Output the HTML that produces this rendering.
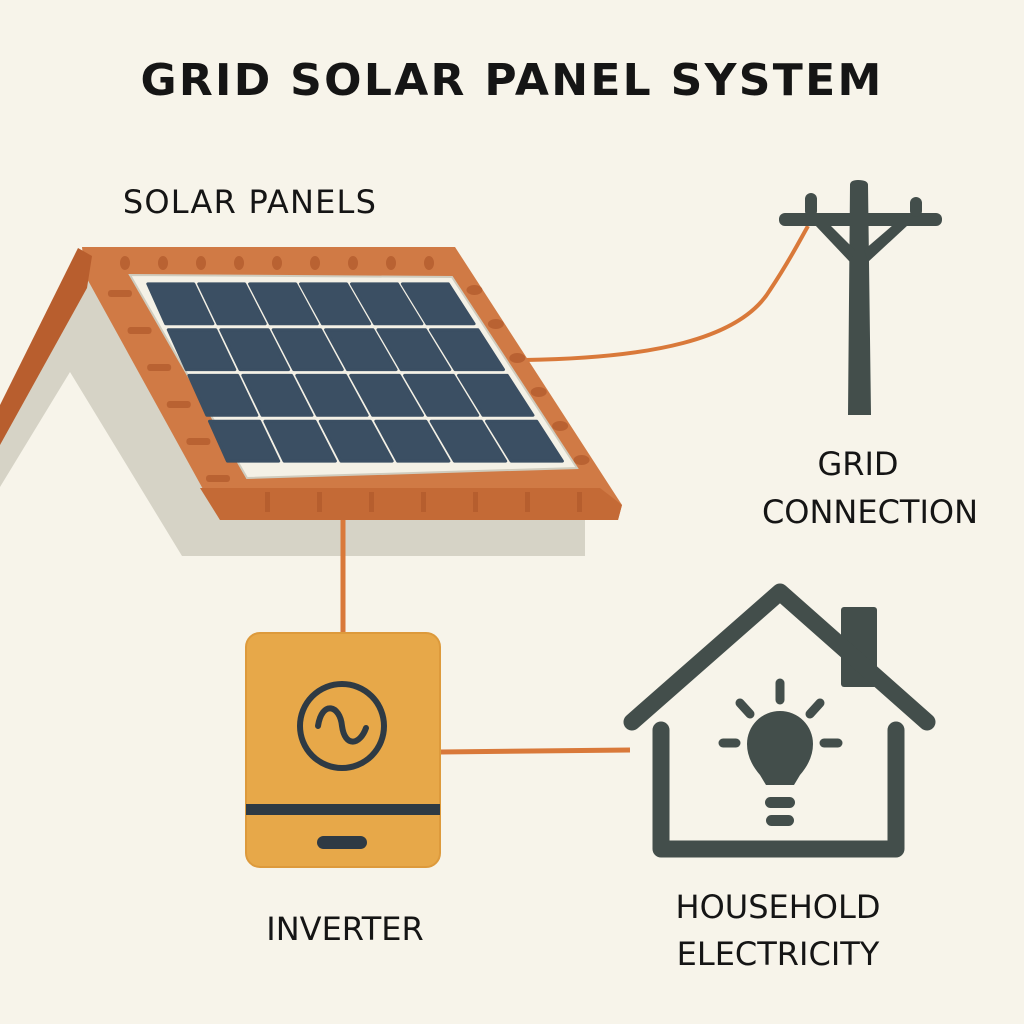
<!DOCTYPE html>
<html><head><meta charset="utf-8"><style>
html,body{margin:0;padding:0;background:#f7f4ea;}
svg{display:block}
text{font-family:"DejaVu Sans","Liberation Sans",sans-serif;fill:#151515}
</style></head><body>
<svg id="s" width="1024" height="1024" viewBox="0 0 1024 1024" xmlns="http://www.w3.org/2000/svg">
<rect width="1024" height="1024" fill="#f7f4ea"/>
<text x="512" y="95" text-anchor="middle" font-size="44" font-weight="bold" letter-spacing="2.3">GRID SOLAR PANEL SYSTEM</text>
<text x="250" y="213" text-anchor="middle" font-size="32" letter-spacing="1.2">SOLAR PANELS</text>
<text x="858" y="475" text-anchor="middle" font-size="32">GRID</text>
<text x="870" y="523" text-anchor="middle" font-size="32">CONNECTION</text>
<text x="345" y="940" text-anchor="middle" font-size="32">INVERTER</text>
<text x="778" y="918" text-anchor="middle" font-size="32">HOUSEHOLD</text>
<text x="778" y="965" text-anchor="middle" font-size="32">ELECTRICITY</text>

<polygon points="85,265 0,428 0,487 70,372 182,556 585,556 585,520 220,520" fill="#d6d3c6"/>
<path d="M343 515 V635" stroke="#d9793a" stroke-width="5" fill="none"/>
<path d="M440 752 L630 750" stroke="#d9793a" stroke-width="5" fill="none"/>
<path d="M525 360 C650 358 740 340 770 290 C790 260 800 240 808 226" stroke="#d9793a" stroke-width="4" fill="none"/>
<polygon points="82,247 455,247 622,505 618,520 220,520 85,275" fill="#d07a45"/>
<polygon points="78,248 92,256 87,288 0,445 0,405" fill="#b85e2e"/>
<polygon points="200,488 600,488 622,505 618,520 220,520" fill="#c46a36"/>
<g id="tiles" fill="#b25a2c" opacity="0.75"></g>
<polygon points="130,275 452,277 577,468 247,478" fill="#f4f1e6" stroke="#cfccbe" stroke-width="2"/>
<g id="cells" fill="#3b4f63"></g>

<g fill="#434e4b">
<path d="M850 185 Q850 180 858 180 Q868 180 868 185 L871 415 L848 415 Z"/>
<rect x="779" y="213" width="163" height="13" rx="6"/>
<rect x="805" y="193" width="12" height="24" rx="6"/>
<rect x="910" y="197" width="12" height="20" rx="6"/>
<polygon points="815,225 830,225 855,250 850,262"/>
<polygon points="893,225 908,225 868,262 864,250"/>
</g>

<rect x="246" y="633" width="194" height="234" rx="14" fill="#e7a849" stroke="#dd9a3c" stroke-width="2"/>
<rect x="246" y="804" width="194" height="11" fill="#2e3a44"/>
<rect x="317" y="836" width="50" height="13" rx="6.5" fill="#2e3a44"/>
<circle cx="342" cy="726" r="42" fill="none" stroke="#2e3a44" stroke-width="6"/>
<path d="M318 726 C322 700 340 705 342 726 C345 748 360 745 366 728" fill="none" stroke="#2e3a44" stroke-width="6" stroke-linecap="round"/>

<rect x="841" y="607" width="36" height="80" rx="3" fill="#434e4b"/>
<g fill="none" stroke="#434e4b" stroke-width="17" stroke-linejoin="round" stroke-linecap="round">
<path d="M661 730 V849 H896 V730"/>
<path d="M632 722 L780 592 L927 722"/>
</g>
<g fill="#434e4b">
<path d="M747 744 A33 33 0 1 1 813 744 Q813 760 800 775 L794 785 L766 785 L760 775 Q747 760 747 744 Z"/>
<rect x="765" y="797" width="30" height="11" rx="5.5"/>
<rect x="766" y="815" width="28" height="11" rx="5.5"/>
</g>
<g stroke="#434e4b" stroke-width="9" stroke-linecap="round">
<line x1="780" y1="683" x2="780" y2="700"/>
<line x1="740" y1="703" x2="750" y2="714"/>
<line x1="820" y1="703" x2="810" y2="714"/>
<line x1="723" y1="743" x2="736" y2="743"/>
<line x1="824" y1="743" x2="838" y2="743"/>
</g>
</svg>
<script>
var NS="http://www.w3.org/2000/svg";
function lerp(a,b,t){return [a[0]+(b[0]-a[0])*t,a[1]+(b[1]-a[1])*t];}
var TL=[144,281],TR=[449,281],BR=[567,464],BL=[226,464];
function P(u,v){return lerp(lerp(TL,TR,u),lerp(BL,BR,u),v);}
var g=document.getElementById('cells');
var cols=6,rows=4,gu=0.008,gv=0.016;
for(var r=0;r<rows;r++)for(var c=0;c<cols;c++){
 var u0=c/cols+gu,u1=(c+1)/cols-gu,v0=r/rows+gv,v1=(r+1)/rows-gv;
 var pts=[P(u0,v0),P(u1,v0),P(u1,v1),P(u0,v1)].map(function(p){return p[0].toFixed(1)+","+p[1].toFixed(1)}).join(" ");
 var e=document.createElementNS(NS,'polygon');e.setAttribute('points',pts);
 e.setAttribute('stroke','#3b4f63');e.setAttribute('stroke-width','3');e.setAttribute('stroke-linejoin','round');
 g.appendChild(e);}
var t=document.getElementById('tiles');
for(var i=0;i<7;i++){var x=265+i*52;var e=document.createElementNS(NS,'rect');
 e.setAttribute('x',x);e.setAttribute('y',492);e.setAttribute('width',5);e.setAttribute('height',20);t.appendChild(e);}
for(var i=0;i<6;i++){var y=290+i*37;var x=100+(y-275)*0.53;var e=document.createElementNS(NS,'rect');
 e.setAttribute('x',x);e.setAttribute('y',y);e.setAttribute('width',24);e.setAttribute('height',7);e.setAttribute('rx',3);t.appendChild(e);}
for(var i=0;i<9;i++){var e=document.createElementNS(NS,'ellipse');
 e.setAttribute('cx',125+i*38);e.setAttribute('cy',263);e.setAttribute('rx',5);e.setAttribute('ry',7);t.appendChild(e);}
for(var i=0;i<6;i++){var y=290+i*34;var x=465+(y-275)*0.63;var e=document.createElementNS(NS,'ellipse');
 e.setAttribute('cx',x);e.setAttribute('cy',y);e.setAttribute('rx',8);e.setAttribute('ry',5);t.appendChild(e);}
</script>
</body></html>
